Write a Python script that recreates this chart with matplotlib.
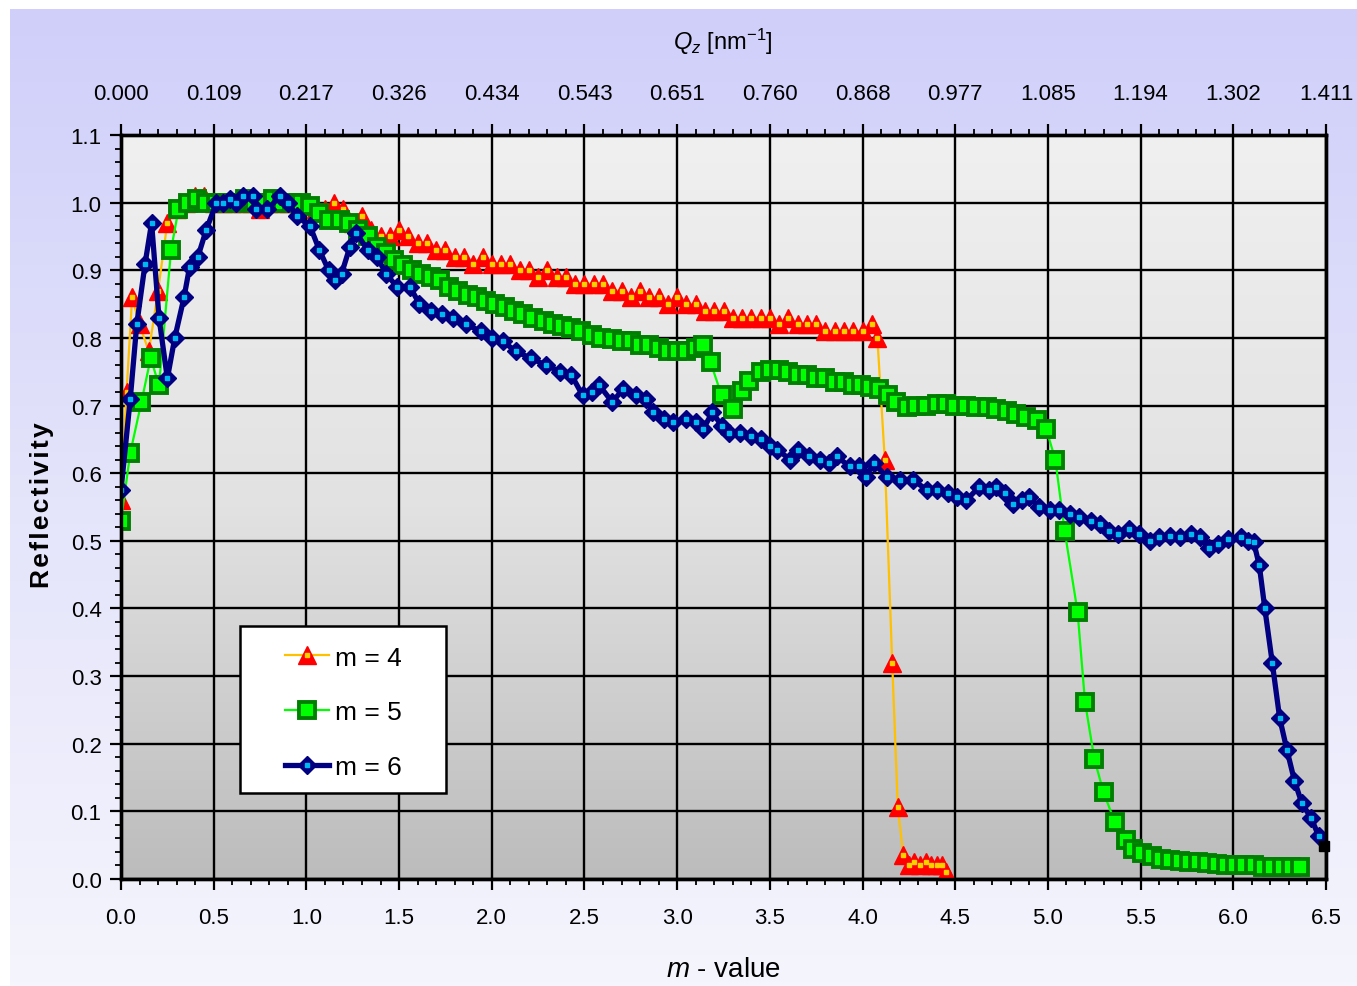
import numpy as np
import matplotlib
matplotlib.use('Agg')
import matplotlib.pyplot as plt
from matplotlib.colors import LinearSegmentedColormap
from matplotlib.patches import Rectangle
from matplotlib.ticker import MultipleLocator

plt.rcParams['font.family'] = ['Liberation Sans', 'DejaVu Sans']
plt.rcParams['mathtext.fontset'] = 'custom'
plt.rcParams['mathtext.rm'] = 'Liberation Sans'
plt.rcParams['mathtext.it'] = 'Liberation Sans:italic'

# reflectivity of the m = 4 supermirror
m4_x = [0.00, 0.03, 0.06, 0.10, 0.15, 0.20, 0.25, 0.30, 0.35, 0.40, 0.45, 0.50,
        0.55, 0.60, 0.65, 0.70, 0.75, 0.80, 0.85, 0.90, 0.95, 1.00, 1.05, 1.10,
        1.15, 1.20, 1.25, 1.30, 1.35, 1.40, 1.45, 1.50, 1.55, 1.60, 1.65, 1.70,
        1.75, 1.80, 1.85, 1.90, 1.95, 2.00, 2.05, 2.10, 2.15, 2.20, 2.25, 2.30,
        2.35, 2.40, 2.45, 2.50, 2.55, 2.60, 2.65, 2.70, 2.75, 2.80, 2.85, 2.90,
        2.95, 3.00, 3.05, 3.10, 3.15, 3.20, 3.25, 3.30, 3.35, 3.40, 3.45, 3.50,
        3.55, 3.60, 3.65, 3.70, 3.75, 3.80, 3.85, 3.90, 3.95, 4.00, 4.05, 4.08,
        4.12, 4.16, 4.19, 4.22, 4.25, 4.28, 4.31, 4.34, 4.37, 4.40, 4.43, 4.45]
m4_r = [0.56, 0.72, 0.86, 0.82, 0.78, 0.87, 0.97, 0.99, 1.00, 1.01, 1.01, 1.00,
        1.00, 1.00, 1.00, 1.00, 0.99, 1.00, 1.00, 1.00, 1.00, 1.00, 0.99, 0.99,
        1.00, 0.99, 0.97, 0.98, 0.96, 0.95, 0.95, 0.96, 0.95, 0.94, 0.94, 0.93,
        0.93, 0.92, 0.92, 0.91, 0.92, 0.91, 0.91, 0.91, 0.90, 0.90, 0.89, 0.90,
        0.89, 0.89, 0.88, 0.88, 0.88, 0.88, 0.87, 0.87, 0.86, 0.87, 0.86, 0.86,
        0.85, 0.86, 0.85, 0.85, 0.84, 0.84, 0.84, 0.83, 0.83, 0.83, 0.83, 0.83,
        0.82, 0.83, 0.82, 0.82, 0.82, 0.81, 0.81, 0.81, 0.81, 0.81, 0.82, 0.80,
        0.62, 0.32, 0.107, 0.035, 0.02, 0.025, 0.02, 0.025, 0.02, 0.02, 0.02, 0.01]

# reflectivity of the m = 5 supermirror
m5_x = [0.00, 0.05, 0.11, 0.16, 0.205, 0.27, 0.31, 0.36, 0.41, 0.46, 0.51, 0.56,
        0.62, 0.67, 0.72, 0.77, 0.82, 0.87, 0.92, 0.97, 1.02, 1.07, 1.12, 1.18,
        1.23, 1.28, 1.33, 1.38, 1.43, 1.47, 1.52, 1.57, 1.62, 1.67, 1.72, 1.77,
        1.82, 1.87, 1.92, 1.97, 2.02, 2.07, 2.12, 2.17, 2.22, 2.28, 2.33, 2.38,
        2.43, 2.48, 2.54, 2.59, 2.65, 2.70, 2.75, 2.80, 2.85, 2.90, 2.95, 3.00,
        3.05, 3.10, 3.14, 3.18, 3.24, 3.30, 3.35, 3.39, 3.45, 3.50, 3.55, 3.60,
        3.65, 3.70, 3.75, 3.80, 3.85, 3.90, 3.95, 3.99, 4.04, 4.09, 4.14, 4.18,
        4.24, 4.29, 4.34, 4.40, 4.45, 4.50, 4.56, 4.61, 4.67, 4.72, 4.78, 4.83,
        4.88, 4.94, 4.99, 5.04, 5.09, 5.16, 5.20, 5.25, 5.30, 5.36, 5.42, 5.46,
        5.51, 5.56, 5.61, 5.66, 5.71, 5.76, 5.81, 5.86, 5.91, 5.96, 6.01, 6.06,
        6.11, 6.16, 6.21, 6.26, 6.31, 6.36]
m5_r = [0.53, 0.63, 0.705, 0.77, 0.73, 0.93, 0.99, 1.00, 1.005, 1.00, 1.00, 1.00,
        1.00, 1.005, 1.00, 1.00, 1.005, 1.00, 1.00, 1.00, 0.995, 0.985, 0.975, 0.975,
        0.97, 0.96, 0.95, 0.935, 0.925, 0.915, 0.908, 0.90, 0.895, 0.89, 0.885, 0.875,
        0.87, 0.863, 0.86, 0.855, 0.85, 0.845, 0.84, 0.835, 0.83, 0.825, 0.82, 0.818,
        0.815, 0.81, 0.805, 0.80, 0.799, 0.795, 0.795, 0.79, 0.79, 0.785, 0.78, 0.78,
        0.78, 0.785, 0.789, 0.764, 0.715, 0.695, 0.722, 0.737, 0.75, 0.752, 0.752, 0.75,
        0.745, 0.745, 0.74, 0.74, 0.735, 0.735, 0.73, 0.73, 0.728, 0.725, 0.715, 0.705,
        0.698, 0.70, 0.70, 0.702, 0.703, 0.70, 0.70, 0.698, 0.698, 0.695, 0.692, 0.688,
        0.683, 0.678, 0.666, 0.62, 0.515, 0.395, 0.262, 0.178, 0.128, 0.085, 0.058, 0.045,
        0.038, 0.034, 0.03, 0.028, 0.026, 0.025, 0.025, 0.023, 0.022, 0.02, 0.02, 0.02,
        0.02, 0.018, 0.018, 0.018, 0.018, 0.018]

# reflectivity of the m = 6 supermirror
m6_x = [0.00, 0.05, 0.085, 0.13, 0.165, 0.205, 0.25, 0.29, 0.34, 0.37, 0.415, 0.46,
        0.515, 0.55, 0.59, 0.62, 0.66, 0.71, 0.73, 0.79, 0.86, 0.90, 0.95, 1.02,
        1.07, 1.12, 1.155, 1.19, 1.235, 1.27, 1.33, 1.38, 1.43, 1.49, 1.56, 1.61,
        1.67, 1.73, 1.79, 1.86, 1.94, 2.00, 2.06, 2.13, 2.21, 2.29, 2.37, 2.43,
        2.49, 2.54, 2.58, 2.65, 2.71, 2.78, 2.83, 2.87, 2.93, 2.98, 3.05, 3.10,
        3.14, 3.19, 3.24, 3.28, 3.34, 3.40, 3.45, 3.50, 3.54, 3.61, 3.65, 3.71,
        3.77, 3.82, 3.86, 3.93, 3.98, 4.02, 4.06, 4.13, 4.20, 4.27, 4.35, 4.40,
        4.46, 4.51, 4.56, 4.63, 4.68, 4.72, 4.77, 4.81, 4.86, 4.90, 4.95, 5.01,
        5.06, 5.12, 5.17, 5.23, 5.28, 5.33, 5.38, 5.44, 5.49, 5.55, 5.60, 5.66,
        5.71, 5.77, 5.82, 5.87, 5.92, 5.97, 6.04, 6.08, 6.11, 6.14, 6.17, 6.21,
        6.25, 6.29, 6.33, 6.37, 6.42, 6.46]
m6_r = [0.575, 0.71, 0.82, 0.91, 0.97, 0.83, 0.74, 0.80, 0.86, 0.905, 0.92, 0.96,
        1.00, 1.00, 1.005, 1.00, 1.01, 1.01, 0.99, 0.99, 1.01, 1.00, 0.98, 0.965,
        0.93, 0.90, 0.885, 0.895, 0.935, 0.955, 0.93, 0.92, 0.895, 0.875, 0.875, 0.85,
        0.84, 0.835, 0.83, 0.82, 0.81, 0.80, 0.795, 0.78, 0.77, 0.76, 0.75, 0.745,
        0.715, 0.72, 0.73, 0.705, 0.725, 0.715, 0.71, 0.69, 0.68, 0.675, 0.68, 0.675,
        0.665, 0.69, 0.67, 0.66, 0.66, 0.655, 0.65, 0.64, 0.635, 0.62, 0.635, 0.625,
        0.62, 0.615, 0.625, 0.61, 0.61, 0.595, 0.615, 0.595, 0.59, 0.59, 0.575, 0.575,
        0.57, 0.565, 0.56, 0.58, 0.575, 0.58, 0.57, 0.555, 0.56, 0.565, 0.55, 0.545,
        0.545, 0.54, 0.535, 0.53, 0.525, 0.515, 0.51, 0.518, 0.51, 0.50, 0.505, 0.507,
        0.505, 0.51, 0.505, 0.49, 0.495, 0.503, 0.506, 0.50, 0.498, 0.464, 0.40, 0.32,
        0.238, 0.19, 0.145, 0.112, 0.09, 0.064]
end_x = [6.49]
end_r = [0.049]

m_ticks = [0.0, 0.5, 1.0, 1.5, 2.0, 2.5, 3.0, 3.5, 4.0, 4.5, 5.0, 5.5, 6.0, 6.5]
qz_labels = ['0.000', '0.109', '0.217', '0.326', '0.434', '0.543', '0.651',
             '0.760', '0.868', '0.977', '1.085', '1.194', '1.302', '1.411']
r_ticks = [0.0, 0.1, 0.2, 0.3, 0.4, 0.5, 0.6, 0.7, 0.8, 0.9, 1.0, 1.1]

W, H = 1357, 987
fig = plt.figure(figsize=(W / 100, H / 100), dpi=100)
fig.patch.set_facecolor('white')

# lavender backdrop behind everything
bg = fig.add_axes([10 / W, 0, 1 - 10 / W, 1 - 10 / H], zorder=-10)
lav = LinearSegmentedColormap.from_list('lav', ['#cfcffa', '#e4e4fb', '#f5f5fd'])
bg.imshow(np.linspace(0, 1, 256).reshape(-1, 1), aspect='auto', cmap=lav,
          extent=[0, 1, 0, 1])
bg.axis('off')

ax = fig.add_axes([121 / W, 107 / H, 1205 / W, 744 / H])
grey = LinearSegmentedColormap.from_list('grey', ['#f0f0f0', '#e2e2e2', '#bcbcbc'])
ax.imshow(np.linspace(0, 1, 256).reshape(-1, 1), aspect='auto', cmap=grey,
          extent=[0, 6.5, 0, 1.1], zorder=0)
ax.set_xlim(0, 6.5)
ax.set_ylim(0, 1.1)

l4, = ax.plot(m4_x, m4_r, color='#ffc000', lw=1.6, marker='^', ms=12.5,
              mfc='#ff0000', mec='#ff0000', zorder=3)
d4, = ax.plot(m4_x, m4_r, ls='none', marker='s', ms=2.2, color='#ffd000', zorder=3.1)
l5, = ax.plot(m5_x, m5_r, color='#00ff00', lw=1.6, marker='s', ms=11,
              mfc='#00ff00', mec='#008000', mew=2.8, zorder=4)
l6, = ax.plot(m6_x, m6_r, color='#000080', lw=3.8, marker='D', ms=9.5,
              mfc='#000080', mec='#000080', zorder=5)
d6, = ax.plot(m6_x, m6_r, ls='none', marker='s', ms=2.4, color='#00b8f0', zorder=5.1)
ax.plot(end_x, end_r, ls='none', marker='s', ms=7, color='black', zorder=6,
        clip_on=False)

ax.set_axisbelow(True)
ax.grid(True, which='major', color='black', lw=1.7)
ax.set_xticks(m_ticks)
ax.set_xticklabels(['%.1f' % v for v in m_ticks])
ax.set_yticks(r_ticks)
ax.set_yticklabels(['%.1f' % v for v in r_ticks])
ax.xaxis.set_minor_locator(MultipleLocator(0.1))
ax.yaxis.set_minor_locator(MultipleLocator(0.02))
ax.tick_params(which='major', direction='out', length=8, width=1.6,
               labelsize=16, colors='black')
ax.tick_params(axis='x', which='major', pad=12)
ax.tick_params(axis='y', which='major', pad=6)
ax.tick_params(which='minor', direction='out', length=4.5, width=1.3)
for s in ax.spines.values():
    s.set_linewidth(2.4)
    s.set_color('black')

# Q_z scale along the top edge
ax2 = ax.twiny()
ax2.set_xlim(0, 6.5)
ax2.set_xticks(m_ticks)
ax2.set_xticklabels(qz_labels)
ax2.xaxis.set_minor_locator(MultipleLocator(0.1))
ax2.tick_params(which='major', direction='out', length=8, width=1.6,
                labelsize=16, pad=14)
ax2.tick_params(which='minor', direction='out', length=4.5, width=1.3)
for s in ax2.spines.values():
    s.set_linewidth(2.4)

# legend box
x0, x1 = (240 - 121) / 1205, (446 - 121) / 1205
y0, y1 = (880 - 794) / 744, (880 - 627) / 744
ax.add_patch(Rectangle((x0, y0), x1 - x0, y1 - y0, transform=ax.transAxes,
                       facecolor='white', edgecolor='black', lw=1.8, zorder=7))
leg = ax.legend([(l4, d4), l5, (l6, d6)], ['m = 4', 'm = 5', 'm = 6'],
                loc='center',
                bbox_to_anchor=((x0 + x1) / 2, (y0 + y1) / 2 - 3 / 744),
                frameon=False, fontsize=19, numpoints=1, handlelength=1.7,
                handletextpad=0.2, labelspacing=1.17)
leg.set_zorder(8)

fig.text(723 / W, 1 - 42 / H, r'$Q_z$ [nm$^{-1}$]', ha='center', va='center',
         fontsize=17)
fig.text(723 / W, 1 - 970 / H, r'$m$ - value', ha='center', va='center',
         fontsize=20)
fig.text(42 / W, 1 - 505 / H, '\u200a'.join('Reflectivity'), rotation=90,
         ha='center', va='center', fontsize=19, fontweight='bold')

fig.savefig('out.png', dpi=100)
